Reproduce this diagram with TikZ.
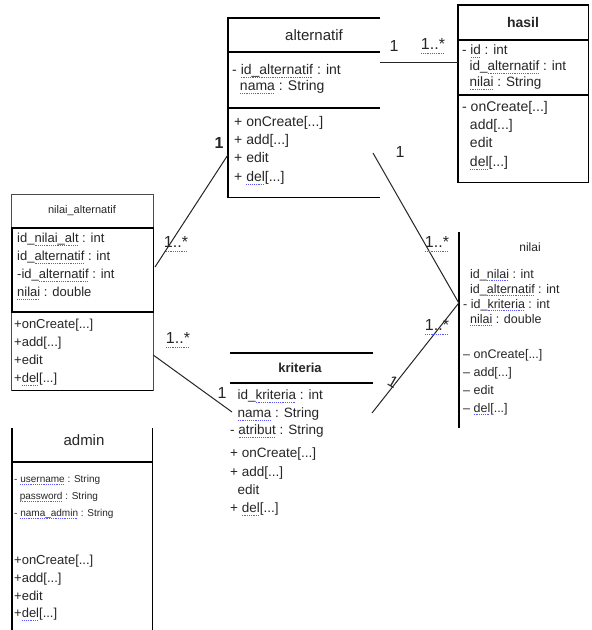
\documentclass[tikz,border=0pt]{standalone}
\usepackage{fontspec}
\setmainfont{Liberation Sans}
\usetikzlibrary{positioning}

% blue dotted underline, as the spell checker shows it
\newsavebox\splbox
\newcommand\spl[1]{\sbox\splbox{#1}\leavevmode\rlap{\hbox to\wd\splbox{\color{blue!65}\xleaders\hbox{\rule[-0.45ex]{1pt}{0.8pt}\kern0.8pt}\hfill}}\usebox\splbox}

\tikzset{
  every node/.style={text=black!85, inner sep=0pt},
  frame/.style={draw=none, minimum width=#1},
  member/.style={anchor=north west, align=left, font=\fontsize{14}{17}\selectfont},
  ttl/.style={font=\fontsize{15}{18}\selectfont},
  mult/.style={font=\fontsize{16}{18}\selectfont},
  edge/.style={line width=1.4pt},
  thin edge/.style={line width=0.8pt, black!70},
  assoc/.style={line width=1pt, black!85}
}

\begin{document}
\begin{tikzpicture}[x=1pt, y=-1pt]
  \useasboundingbox[fill=white] (0,0) rectangle (592,630);

  % class frames
  \node[frame=152, minimum height=179] (alt) at (304,107.5) {};
  \node[frame=130, minimum height=177] (hasil) at (523,93.5) {};
  \node[frame=141, minimum height=195] (nalt) at (82.5,292.5) {};
  \node[frame=130, minimum height=196] (nilai) at (524,330) {};
  \node[frame=143, minimum height=160] (krit) at (301.5,433) {};
  \node[frame=140, minimum height=202] (admin) at (82,529) {};

  % alternatif
  \draw[edge] (alt.north east) -- (alt.north west) -- (alt.south west) -- (alt.south east);
  \draw[edge] (alt.west |- 0,52) -- (alt.east |- 0,52);
  \draw[edge] (alt.west |- 0,108) -- (alt.east |- 0,108);
  \node[ttl] (altT) at (314,35) {alternatif};
  \node[member, font=\fontsize{14}{16}\selectfont] (altA) at (232,64)
    {- \spl{id\_alternatif} : int\\ \ \ \spl{nama} : String};
  \node[member, font=\fontsize{14}{18.3}\selectfont] (altM) at (234,116)
    {+ onCreate[...]\\+ add[...]\\+ edit\\+ \spl{del}[...]};

  % hasil
  \draw[edge] (hasil.north west) rectangle (hasil.south east);
  \draw[edge] (hasil.west |- 0,40) -- (hasil.east |- 0,40);
  \draw[edge] (hasil.west |- 0,95) -- (hasil.east |- 0,95);
  \node[ttl, font=\bfseries\fontsize{14}{18}\selectfont] (hasilT) at (523,22) {hasil};
  \node[member, font=\fontsize{13.5}{16}\selectfont] (hasilA) at (462,45)
    {- \spl{id} : int\\ \ \ id\_\spl{alternatif} : int\\ \ \ \spl{nilai} : String};
  \node[member, font=\fontsize{14}{18.3}\selectfont] (hasilM) at (462,101)
    {- onCreate[...]\\ \ \ add[...]\\ \ \ edit\\ \ \ \spl{del}[...]};

  % nilai_alternatif
  \draw[thin edge] (nalt.north west) rectangle (nalt.south east);
  \draw[edge] (nalt.south west) -- (nalt.south east);
  \draw[edge] (nalt.west |- 0,228) rectangle (nalt.east |- 0,312);
  \node[ttl, font=\fontsize{11}{13}\selectfont] (naltT) at (82,211) {nilai\_alternatif};
  \node[member, font=\fontsize{13}{18}\selectfont] (naltA) at (17,233)
    {id\_\spl{nilai\_alt} : int\\id\_\spl{alternatif} : int\\-id\_\spl{alternatif} : int\\\spl{nilai} : double};
  \node[member, font=\fontsize{13}{18}\selectfont] (naltM) at (14,319)
    {+onCreate[...]\\+add[...]\\+edit\\+\spl{del}[...]};

  % nilai
  \draw[edge] (nilai.north west) -- (nilai.south west);
  \node[ttl, font=\fontsize{12}{14}\selectfont] (nilaiT) at (530,247) {nilai};
  \node[member, font=\fontsize{12.5}{15}\selectfont] (nilaiA) at (463,269)
    {\ \ id\_\spl{nilai} : int\\\ \ id\_\spl{alternatif} : int\\- id\_\spl{kriteria} : int\\\ \ \spl{nilai} : double};
  \node[member, font=\fontsize{12.5}{18}\selectfont] (nilaiM) at (463,349)
    {-- onCreate[...]\\-- add[...]\\-- edit\\-- \spl{del}[...]};

  % kriteria
  \draw[edge] (krit.north west) -- (krit.north east);
  \draw[edge] (krit.west |- 0,383) -- (krit.east |- 0,383);
  \node[ttl, font=\bfseries\fontsize{13}{16}\selectfont] (kritT) at (300,368) {kriteria};
  \node[member, font=\fontsize{13.5}{17.5}\selectfont] (kritA) at (230,390)
    {\ \ id\_\spl{kriteria} : int\\\ \ \spl{nama} : String\\- \spl{atribut} : String};
  \node[member, font=\fontsize{13.5}{18.3}\selectfont] (kritM) at (230,448)
    {+ onCreate[...]\\+ add[...]\\\ \ edit\\+ \spl{del}[...]};

  % admin
  \draw[edge] (admin.north west) -- (admin.south west);
  \draw[edge] (admin.north east) -- (admin.south east);
  \draw[edge] (admin.west |- 0,462) -- (admin.east |- 0,462);
  \node[ttl] (adminT) at (84,440) {admin};
  \node[member, font=\fontsize{10}{17}\selectfont] (adminA) at (14,475)
    {- \spl{username} : String\\\ \ \spl{password} : String\\- \spl{nama\_admin} : String};
  \node[member, font=\fontsize{13}{17.7}\selectfont] (adminM) at (14,555)
    {+onCreate[...]\\+add[...]\\+edit\\+\spl{del}[...]};

  % connector ends
  \coordinate (altE) at (alt.east |- 0,62);
  \coordinate (hasilW) at (hasil.west |- 0,62);
  \coordinate (altW) at (alt.west |- 0,155);
  \coordinate (naltNE) at (155,267);
  \coordinate (altSE) at (373,153);
  \coordinate (nilaiW) at (nilai.west |- 0,303);
  \coordinate (kritNE) at (372,413);
  \coordinate (naltE) at (nalt.east |- 0,355);
  \coordinate (kritW) at (232,412);

  % associations
  \draw[assoc] (altE) -- (hasilW);
  \draw[assoc] (altW) -- (naltNE);
  \draw[assoc] (altSE) -- (nilaiW);
  \draw[assoc] (kritNE) -- (nilaiW);
  \draw[assoc] (naltE) -- (kritW);

  % multiplicities
  \node[mult] (m1) at (394,46) {1};
  \node[mult] (m2) at (433,46) {\spl{1..*}};
  \node[mult, font=\bfseries\fontsize{16}{18}\selectfont] (m3) at (219,143) {1};
  \node[mult] (m4) at (176,244) {\spl{1..*}};
  \node[mult] (m5) at (400,152) {1};
  \node[mult] (m6) at (437,244) {\spl{1..*}};
  \node[mult, rotate=-30] (m7) at (393,382) {1};
  \node[mult] (m8) at (437,327) {\spl{1..*}};
  \node[mult] (m9) at (178,340) {\spl{1..*}};
  \node[mult] (m10) at (222,393) {1};
\end{tikzpicture}
\end{document}
